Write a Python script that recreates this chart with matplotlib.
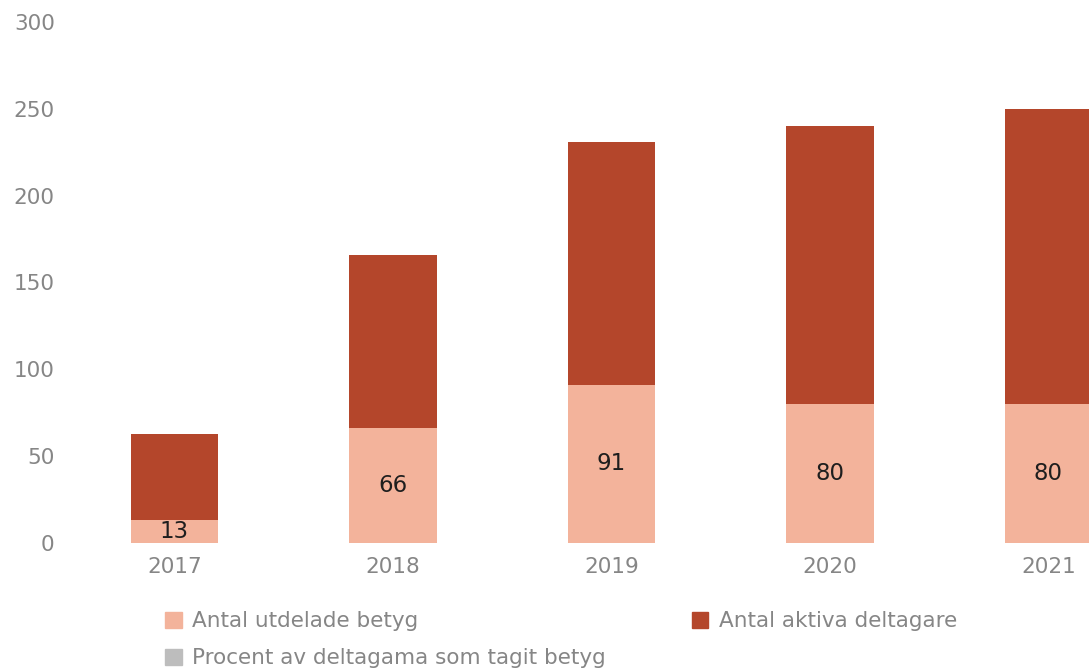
import matplotlib.pyplot as plt
import matplotlib.patches as mpatches
import numpy as np

# data
years = ['2017', '2018', '2019', '2020', '2021']
aktiva = [63, 166, 231, 240, 250]
betyg = [13, 66, 91, 80, 80]

dark = '#B4462B'
light = '#F3B39B'
grey_sq = '#BDBDBD'
txt = '#868686'

plt.rcParams['font.family'] = ['DejaVu Sans']

fig = plt.figure(figsize=(10.89, 6.70), dpi=100)
ax = fig.add_axes([70 / 1089, 127 / 670, 1 - 70 / 1089, 521 / 670])

x = np.arange(len(years))
w = 0.40
ax.bar(x, aktiva, width=w, color=dark, label='Antal aktiva deltagare')
ax.bar(x, betyg, width=w, color=light, label='Antal utdelade betyg')

for xi, v in zip(x, betyg):
    ax.text(xi, v / 2, str(v), ha='center', va='center', fontsize=16.5, color='#1E1E1E')

ax.set_xlim((70 - 174.5) / 218.5, (1089 - 174.5) / 218.5)
ax.set_ylim(0, 300)
ax.set_yticks(range(0, 301, 50))
ax.set_xticks(x)
ax.set_xticklabels(years)
ax.tick_params(axis='both', length=0, labelsize=15.5, labelcolor=txt)
ax.tick_params(axis='y', pad=11)
ax.tick_params(axis='x', pad=10)
for s in ax.spines.values():
    s.set_visible(False)

h_light = mpatches.Patch(color=light, label='Antal utdelade betyg')
h_grey = mpatches.Patch(color=grey_sq, label='Procent av deltagama som tagit betyg')
h_dark = mpatches.Patch(color=dark, label='Antal aktiva deltagare')
leg = fig.legend(handles=[h_light, h_grey, h_dark], ncol=2, loc='upper left',
                 bbox_to_anchor=(146 / 1089, 1 - 592 / 670), frameon=False,
                 fontsize=15.5, handlelength=0.75, handleheight=0.75,
                 handletextpad=0.5, columnspacing=4.0, labelspacing=0.78)
for t in leg.get_texts():
    t.set_color(txt)

fig.savefig('out.png', dpi=100)
